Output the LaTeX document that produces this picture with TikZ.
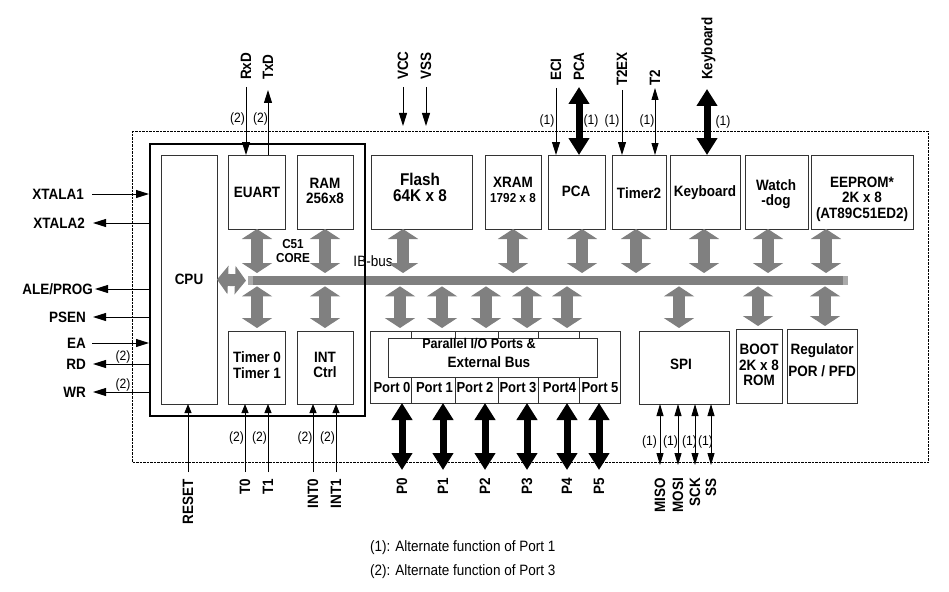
\documentclass[tikz,border=0pt]{standalone}
\usepackage{fontspec}
\setmainfont{Liberation Sans}[FakeStretch=0.9]
\usetikzlibrary{arrows.meta}
\definecolor{busgray}{RGB}{128,128,128}
\definecolor{capgray}{RGB}{170,170,170}
\newcommand\fsz[2]{\fontsize{#1}{#2}\selectfont}
\newcommand\bx[5]{\node[box, anchor=north west, minimum width=#4pt-#2pt, minimum height=#5pt-#3pt] (#1) at (#2,#3) {};}
\begin{document}
\begin{tikzpicture}[x=1pt,y=-1pt,
  box/.style={draw=black!80, line width=0.9pt, inner sep=0pt, outer sep=0pt},
  blab/.style={font=\bfseries\fsz{15}{15.5}, align=center, inner sep=0pt},
  hlab/.style={font=\bfseries\fsz{15}{16}, inner sep=0pt, text depth=0pt},
  vlab/.style={font=\bfseries\fsz{15}{16}, inner sep=0pt, text depth=0pt, rotate=90},
  note/.style={font=\fsz{13.5}{15}, inner sep=0pt},
  sig/.style={draw=black, line width=0.9pt, -{Triangle[length=13pt,width=8pt]}},
  sigs/.style={draw=black, line width=0.9pt, -{Triangle[length=9pt,width=7pt]}},
  sigd/.style={draw=black, line width=0.9pt, {Triangle[length=12pt,width=7pt]}-{Triangle[length=12pt,width=7pt]}},
  fat/.style={draw=black, line width=7pt, {Triangle[length=17pt,width=20pt]}-{Triangle[length=17pt,width=20pt]}},
  garrow/.style={draw=busgray, line width=12pt, {Triangle[length=10pt,width=30pt]}-{Triangle[length=10pt,width=30pt]}},
  garrowh/.style={draw=busgray, line width=12pt, {Triangle[length=11pt,width=28pt]}-{Triangle[length=11pt,width=28pt]}}
]
\useasboundingbox[fill=white] (0,0) rectangle (949,591);

% outer dashed boundary
\node[draw=black, line width=1.4pt, dash pattern=on 2.5pt off 1pt, inner sep=0pt, anchor=north west,
      minimum width=796pt, minimum height=331pt] (chip) at (132,131) {};

% bus
\node[fill=busgray, inner sep=0pt, anchor=north west, minimum width=600pt, minimum height=9pt] (bus) at (248,276) {};
\fill[capgray] (bus.north west) rectangle ([xshift=5pt]bus.south west);
\fill[capgray] ([xshift=-5pt]bus.north east) rectangle (bus.south east);

% boxes
\bx{cpu}{161}{155}{217}{404}
\bx{euart}{228}{155}{285}{229}
\bx{ram}{297}{155}{353}{229}
\bx{tmr}{228}{331}{285}{404}
\bx{intc}{297}{331}{353}{404}
\bx{flash}{371}{155}{472}{229}
\bx{xram}{485}{155}{541}{229}
\bx{pca}{548}{155}{605}{229}
\bx{tmrtwo}{612}{155}{666}{229}
\bx{kbd}{670}{155}{740}{229}
\bx{wdog}{745}{155}{808}{229}
\bx{eeprom}{811}{155}{913}{229}
\bx{pio}{370}{331}{620}{403}
\bx{pioin}{388}{338}{597}{377}
\bx{spi}{639}{331}{729}{404}
\bx{boot}{736}{329}{782}{403}
\bx{reg}{787}{329}{857}{403}

% core box (thick)
\node[draw=black, line width=2pt, inner sep=0pt, anchor=north west, minimum width=215pt, minimum height=272pt] (core) at (149,143) {};

% port cell dividers
\foreach \px in {411,455,498,538,579}{
  \draw[black!80, line width=0.9pt] (\px,0 |- pio.north) -- (\px,0 |- pioin.north);
  \draw[black!80, line width=0.9pt] (\px,0 |- pioin.south) -- (\px,0 |- pio.south);
}

% box texts
\node[blab] (tcpu) at (189,279) {CPU};
\node[blab] (teuart) at (257,192) {EUART};
\node[blab] (tram) at (325,191) {RAM\\256x8};
\node[blab] (ttmr) at (257,365) {Timer 0\\Timer 1};
\node[blab] (tint) at (325,365) {INT\\Ctrl};
\node[blab, font=\bfseries\fsz{17}{16}] (tflash) at (420,187) {Flash\\64K x 8};
\node[blab] (txram) at (513,190) {XRAM\\{\fsz{13}{14}1792 x 8}};
\node[blab] (tpca) at (576,191) {PCA};
\node[blab] (ttmrtwo) at (639,193) {Timer2};
\node[blab] (tkbd) at (705,193) {Keyboard};
\node[blab] (twdog) at (776,194) {Watch\\-dog};
\node[blab] (teeprom) at (862,199) {EEPROM*\\2K x 8\\(AT89C51ED2)};
\node[blab, font=\bfseries\fsz{14}{15}] (tpioa) at (479,344) {Parallel I/O Ports \&};
\node[blab] (tpiob) at (489,362) {External Bus};
\node[blab, font=\bfseries\fsz{14.5}{15}] (tp0) at (392,388) {Port 0};
\node[blab, font=\bfseries\fsz{14.5}{15}] (tp1) at (434.5,388) {Port 1};
\node[blab, font=\bfseries\fsz{14.5}{15}] (tp2) at (475,388) {Port 2};
\node[blab, font=\bfseries\fsz{14.5}{15}] (tp3) at (518,388) {Port 3};
\node[blab, font=\bfseries\fsz{14.5}{15}] (tp4) at (559.5,388) {Port4};
\node[blab, font=\bfseries\fsz{14.5}{15}] (tp5) at (600,388) {Port 5};
\node[blab] (tspi) at (681,364) {SPI};
\node[blab] (tboot) at (759,365) {BOOT\\2K x 8\\ROM};
\node[blab] (treg) at (822,360) {Regulator\\[6pt]POR / PFD};
\node[blab, font=\bfseries\fsz{13}{14}] (tcore) at (293,251) {C51\\CORE};
\node[note, font=\fsz{15}{16}] (tib) at (373,261) {IB-bus};

% grey bus arrows (top row)
\foreach \gx/\bn in {257/euart,325/ram,403/flash,513/xram,582/pca,636/tmrtwo,704/kbd,768/wdog,826/eeprom}{
  \draw[garrow, shorten >=3pt] (\gx,0 |- \bn.south) -- (\gx,0 |- bus.north);
}
% grey bus arrows (bottom row)
\foreach \gx/\bn in {257/tmr,325/intc,400/pio,442/pio,486/pio,527/pio,567/pio,679/spi,758/boot,825/reg}{
  \draw[garrow, shorten <=1pt, shorten >=3pt] (\gx,0 |- bus.south) -- (\gx,0 |- \bn.north);
}
\draw[garrowh, shorten >=2pt] (cpu.east) -- (bus.west);

% left signals
\coordinate (cxa) at (92,194);
\coordinate (cxb) at (93,223);
\coordinate (cale) at (95,289);
\coordinate (cpsen) at (93,317);
\coordinate (cea) at (92,343);
\coordinate (crd) at (93,364);
\coordinate (cwr) at (93,392);
\draw[sig] (cxa) -- (cxa -| core.west);
\draw[sig] (cxb -| core.west) -- (cxb);
\draw[sig] (cale -| core.west) -- (cale);
\draw[sig] (cpsen -| core.west) -- (cpsen);
\draw[sig] (cea) -- (cea -| core.west);
\draw[sig] (crd -| core.west) -- (crd);
\draw[sig] (cwr -| core.west) -- (cwr);
\node[hlab, anchor=east] (lxa) at (84,194) {XTALA1};
\node[hlab, anchor=east] (lxb) at (85,223) {XTALA2};
\node[hlab, anchor=east] (lale) at (93,289) {ALE/PROG};
\node[hlab, anchor=east] (lpsen) at (86,317) {PSEN};
\node[hlab, anchor=east] (lea) at (86,343) {EA};
\node[hlab, anchor=east] (lrd) at (86,364) {RD};
\node[hlab, anchor=east] (lwr) at (86,392) {WR};
\node[note] (nrd) at (123,357) {(2)};
\node[note] (nwr) at (123,385) {(2)};

% top signals
\coordinate (crxd) at (246,87);
\coordinate (ctxd) at (268,90);
\coordinate (cvcc) at (403,87);
\coordinate (cvcce) at (403,126);
\coordinate (cvss) at (426,87);
\coordinate (cvsse) at (426,126);
\coordinate (ceci) at (556,88);
\coordinate (cpcap) at (579,87);
\coordinate (ctex) at (622,90);
\coordinate (cttwo) at (655,88);
\coordinate (ckbd) at (707,89);
\draw[sig] (crxd) -- (crxd |- euart.north);
\draw[sig] (ctxd |- euart.north) -- (ctxd);
\draw[sig] (cvcc) -- (cvcce);
\draw[sig] (cvss) -- (cvsse);
\draw[sig] (ceci) -- (ceci |- pca.north);
\draw[fat] (cpcap) -- (cpcap |- pca.north);
\draw[sig] (ctex) -- (ctex |- tmrtwo.north);
\draw[sigd] (cttwo) -- (cttwo |- tmrtwo.north);
\draw[fat] (ckbd) -- (ckbd |- kbd.north);
\node[vlab, anchor=west] (lrxd) at (246,80) {RxD};
\node[vlab, anchor=west] (ltxd) at (268,80) {TxD};
\node[vlab, anchor=west] (lvcc) at (403,80) {VCC};
\node[vlab, anchor=west] (lvss) at (426,80) {VSS};
\node[vlab, anchor=west] (leci) at (556,81) {ECI};
\node[vlab, anchor=west] (lpca) at (579,81) {PCA};
\node[vlab, anchor=west] (ltex) at (622,86) {T2EX};
\node[vlab, anchor=west] (lttwo) at (655,86) {T2};
\node[vlab, anchor=west] (lkbd) at (707,80) {Keyboard};
\node[note] (nrxd) at (237.5,119) {(2)};
\node[note] (ntxd) at (260.5,119) {(2)};
\node[note] (neci) at (547,121) {(1)};
\node[note] (npca) at (591,121) {(1)};
\node[note] (ntex) at (612,121) {(1)};
\node[note] (nttwo) at (647,121) {(1)};
\node[note] (nkbd) at (723,122) {(1)};

% bottom signals
\coordinate (creset) at (188,472);
\coordinate (ctz) at (245,472);
\coordinate (cto) at (268,472);
\coordinate (ciz) at (313,472);
\coordinate (cio) at (336,472);
\draw[sigs] (creset) -- (creset |- cpu.south);
\draw[sigs] (ctz) -- (ctz |- tmr.south);
\draw[sigs] (cto) -- (cto |- tmr.south);
\draw[sigs] (ciz) -- (ciz |- intc.south);
\draw[sigs] (cio) -- (cio |- intc.south);
\node[vlab, anchor=east] (lreset) at (188,479) {RESET};
\node[vlab, anchor=east] (ltz) at (245,479) {T0};
\node[vlab, anchor=east] (lto) at (268,479) {T1};
\node[vlab, anchor=east] (liz) at (313,479) {INT0};
\node[vlab, anchor=east] (lio) at (336,479) {INT1};
\node[note] (ntz) at (236.5,438) {(2)};
\node[note] (nto) at (259.5,438) {(2)};
\node[note] (niz) at (305,438) {(2)};
\node[note] (nio) at (327.5,438) {(2)};

% ports
\foreach \i/\px in {0/402,1/443,2/485,3/527,4/567,5/599}{
  \coordinate (cp\i) at (\px,470);
  \draw[fat] (cp\i |- pio.south) -- (cp\i);
  \node[vlab, anchor=east] (lp\i) at (\px,478) {P\i};
}

% SPI signals
\foreach \nm/\px/\nx in {MISO/660/649.5,MOSI/678/670.5,SCK/695/689.5,SS/711/705.5}{
  \coordinate (cs\nm) at (\px,465);
  \draw[sigd] (cs\nm |- spi.south) -- (cs\nm);
  \node[vlab, anchor=east] (ls\nm) at (\px,478) {\nm};
  \node[note] (ns\nm) at (\nx,442) {(1)};
}

% legend
\node[note, font=\fsz{15}{16}, anchor=west] (leg1) at (370,548) {(1): Alternate function of Port 1};
\node[note, font=\fsz{15}{16}, anchor=west] (leg2) at (370,572) {(2): Alternate function of Port 3};
\end{tikzpicture}
\end{document}
